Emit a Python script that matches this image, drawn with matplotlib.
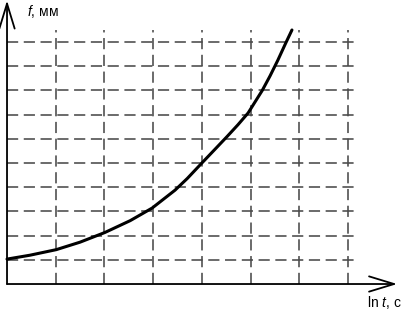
import matplotlib
matplotlib.use('Agg')
import matplotlib.pyplot as plt

# точки кривой f(ln t), в клетках сетки
curve_x = [0.0, 0.47, 1.01, 1.50, 2.01, 2.53, 2.98, 3.45, 3.70, 4.00,
           4.27, 4.52, 4.74, 4.95, 5.24, 5.40, 5.56, 5.72, 5.85]
curve_y = [1.03, 1.19, 1.42, 1.73, 2.13, 2.62, 3.14, 3.88, 4.36, 5.00,
           5.57, 6.10, 6.58, 7.07, 8.00, 8.60, 9.25, 9.95, 10.5]

# линии сетки
grid_x = [1, 2, 3, 4, 5, 6, 7]
grid_y = [1, 2, 3, 4, 5, 6, 7, 8, 9, 10]

x_label = r'ln $\mathit{t}$, с'
y_label = r'$\mathit{f}$, мм'

plt.rcParams['font.family'] = ['Liberation Sans', 'DejaVu Sans']
plt.rcParams['mathtext.fontset'] = 'custom'
plt.rcParams['mathtext.it'] = 'Liberation Sans:italic'
plt.rcParams['mathtext.rm'] = 'Liberation Sans'

fig = plt.figure(figsize=(4.03, 3.12), dpi=100)
ax = fig.add_axes([0, 0, 1, 1])
ax.set_xlim(-0.144, 8.13)
ax.set_ylim(-1.157, 11.74)
ax.axis('off')

grid_kw = dict(color='#4a4a4a', lw=1.15, dashes=(7, 3.5))
for gy in grid_y:
    ax.plot([0, 7.19], [gy, gy], **grid_kw)
for gx in grid_x:
    ax.plot([gx, gx], [0, 10.5], **grid_kw)

# оси со стрелками
arrow = dict(arrowstyle='->, head_length=1.8, head_width=0.55', color='black', lw=1.3,
             shrinkA=0, shrinkB=0)
ax.annotate('', xy=(8.01, 0), xytext=(0, 0), arrowprops=arrow)
ax.annotate('', xy=(0, 11.72), xytext=(0, 0), arrowprops=arrow)

# кривая
ax.plot(curve_x, curve_y, color='black', lw=2.2, solid_capstyle='round',
        solid_joinstyle='round')

ax.text(0.42, 11.25, y_label, fontsize=10, va='center', ha='left')
ax.text(7.4, -0.75, x_label, fontsize=10, va='center', ha='left')

fig.savefig('out.png', dpi=100)
